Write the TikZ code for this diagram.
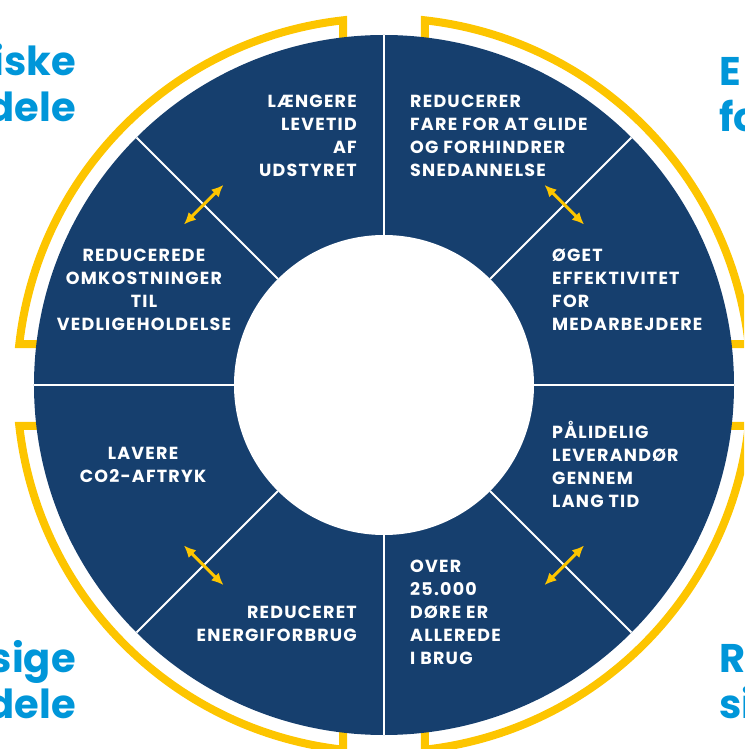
\documentclass[tikz,border=0pt]{standalone}
\usepackage{fontspec}
\setmainfont{Poppins}
\usepackage{xcolor}
\usetikzlibrary{positioning,calc,arrows.meta}

\definecolor{navy}{HTML}{163F6E}
\definecolor{gold}{HTML}{FDC500}
\definecolor{sky}{HTML}{0096D9}

\begin{document}
\begin{tikzpicture}[x=1pt,y=1pt, line join=miter]
	\useasboundingbox (-384,-364) rectangle (360,385);
	\clip (-384,-364) rectangle (360,385);
	
	% ===== styles =====
	\tikzset{bracket/.style={draw=gold, line width=8pt},
		spoke/.style={draw=white, line width=2pt},
		swap/.style={draw=gold, line width=3pt, {Latex[length=12pt,width=11pt]}-{Latex[length=12pt,width=11pt]}},
		lbl/.style={text=white, font=\fontsize{17.5}{23}\selectfont\bfseries\addfontfeature{LetterSpace=7}, inner sep=0pt},
		head/.style={text=sky, font=\fontsize{40}{46}\selectfont\bfseries, inner sep=0pt}}
	
	\pgfmathsetmacro\ga{asin(41/367)}
	
	% ===== gule klammer =====
	\foreach \a in {0,90,180,270}{
		\draw[bracket, rotate=\a] (41,340) -- (90-\ga:367) arc[start angle=90-\ga, end angle=\ga, radius=367] -- (340,41);
	}
	
	% ===== ring + eger =====
	\fill[navy] (0,0) circle (350);
	\fill[white] (0,0) circle (150);
	\foreach \a in {0,45,...,315}{
		\draw[spoke] (\a:150) -- (\a:350);
	}
	
	% ===== dobbeltpile =====
	\foreach \a in {45,135,225,315}{
		\coordinate (s\a) at ($(\a:255)+(\a+90:28)$);
		\coordinate (e\a) at ($(\a:255)+(\a-90:28)$);
		\draw[swap] (s\a) -- (e\a);
	}
	
	% ===== tekster i ringen (base = sidste linje) =====
	\node[lbl, align=right, anchor=base east] (levetid) at (-27,208) {LÆNGERE\\LEVETID\\AF\\UDSTYRET};
	\node[lbl, align=left, anchor=base west] (glide) at (26,208) {REDUCERER\\FARE FOR AT GLIDE\\OG FORHINDRER\\SNEDANNELSE};
	\node[lbl, align=left, anchor=base west] (effekt) at (168,54) {ØGET\\EFFEKTIVITET\\FOR\\MEDARBEJDERE};
	\node[lbl, align=center, anchor=base] (omkost) at (-240,54) {REDUCEREDE\\OMKOSTNINGER\\TIL\\VEDLIGEHOLDELSE};
	\node[lbl, align=center, anchor=base] (co2) at (-241,-97) {LAVERE\\CO2-AFTRYK};
	\node[lbl, align=right, anchor=base east] (energi) at (-27,-256) {REDUCERET\\ENERGIFORBRUG};
	\node[lbl, align=left, anchor=base west] (leverandor) at (168,-122) {PÅLIDELIG\\LEVERANDØR\\GENNEM\\LANG TID};
	\node[lbl, align=left, anchor=base west] (dore) at (26,-279) {OVER\\25.000\\DØRE ER\\ALLEREDE\\I BRUG};
	
	% ===== overskrifter (beskaaret) =====
	\node[head, align=right, anchor=base east] (oko) at (-308,263) {iske\\dele};
	\node[head, align=left, anchor=base west] (eff) at (335,253) {E\\fo};
	\node[head, align=right, anchor=base east] (miljo) at (-308,-333) {sige\\dele};
	\node[head, align=left, anchor=base west] (sik) at (335,-333) {R\\si};
\end{tikzpicture}
\end{document}
